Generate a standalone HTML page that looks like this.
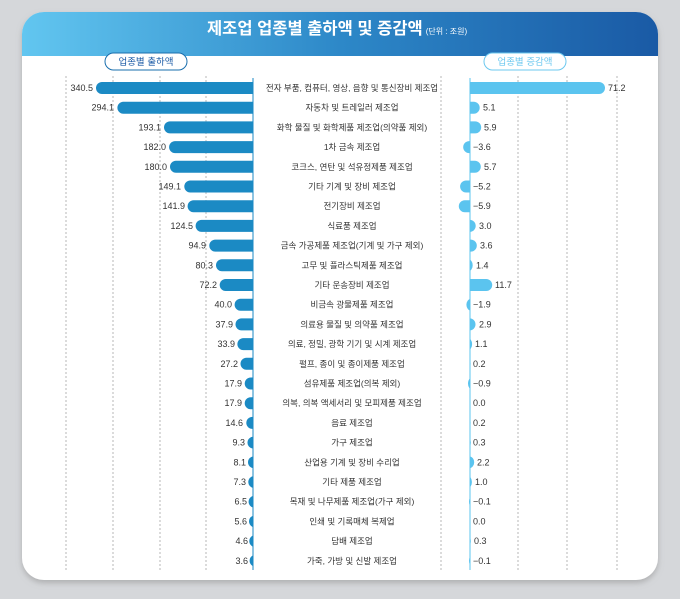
<!DOCTYPE html><html><head><meta charset="utf-8"><style>
body{margin:0;background:#d5d7da;width:680px;height:594px;overflow:hidden}
text{font-family:"Liberation Sans","Noto Sans CJK KR",sans-serif}
</style></head><body>
<svg width="680" height="594" viewBox="0 0 680 594">
<defs>
<linearGradient id="hg" x1="0" x2="1"><stop offset="0" stop-color="#62c6f0"/><stop offset="0.5" stop-color="#2d88c8"/><stop offset="1" stop-color="#1a5aa5"/></linearGradient>
<clipPath id="cl"><rect x="0" y="0" width="253" height="594"/></clipPath>
<clipPath id="cp"><rect x="470" y="0" width="210" height="594"/></clipPath>
<clipPath id="cn"><rect x="400" y="0" width="70" height="594"/></clipPath>
<clipPath id="card"><rect x="22" y="12" width="636" height="568" rx="22"/></clipPath>
<filter id="sh" x="-5%" y="-5%" width="110%" height="115%"><feDropShadow dx="0" dy="3" stdDeviation="3" flood-color="#888" flood-opacity="0.5"/></filter>
</defs>
<rect x="22" y="12" width="636" height="568" rx="22" fill="#fff" filter="url(#sh)"/>
<rect x="22" y="12" width="636" height="44" fill="url(#hg)" clip-path="url(#card)"/>
<text x="207" y="34" font-size="16.5" font-weight="bold" fill="#fff">제조업 업종별 출하액 및 증감액<tspan font-size="8" font-weight="normal" dx="3">(단위 : 조원)</tspan></text>
<rect x="105" y="53" width="82" height="17" rx="8.5" fill="#fff" stroke="#1a6fae" stroke-width="1"/>
<text x="146" y="65" text-anchor="middle" font-size="9.5" fill="#1a5aa5">업종별 출하액</text>
<rect x="484" y="53" width="82" height="17" rx="8.5" fill="#fff" stroke="#6cc8ef" stroke-width="1"/>
<text x="525" y="65" text-anchor="middle" font-size="9.5" fill="#6cc8ef">업종별 증감액</text>
<g stroke="#999" stroke-width="0.7" stroke-dasharray="2,2">
<line x1="66" y1="76" x2="66" y2="572"/><line x1="113" y1="76" x2="113" y2="572"/><line x1="160" y1="76" x2="160" y2="572"/><line x1="206" y1="76" x2="206" y2="572"/>
<line x1="441" y1="76" x2="441" y2="572"/><line x1="518" y1="76" x2="518" y2="572"/><line x1="567" y1="76" x2="567" y2="572"/><line x1="617" y1="76" x2="617" y2="572"/>
</g>
<line x1="253" y1="78" x2="253" y2="570" stroke="#1b8ac4" stroke-width="1"/>
<line x1="470" y1="78" x2="470" y2="570" stroke="#5bc4ef" stroke-width="1"/>
<g fill="#1b8ac4" clip-path="url(#cl)">
<rect x="96" y="82" width="169" height="12" rx="6"/>
<rect x="117.4" y="101.7" width="147.6" height="12" rx="6"/>
<rect x="164" y="121.4" width="101" height="12" rx="6"/>
<rect x="169.1" y="141.1" width="95.9" height="12" rx="6"/>
<rect x="170" y="160.8" width="95" height="12" rx="6"/>
<rect x="184.3" y="180.5" width="80.7" height="12" rx="6"/>
<rect x="187.6" y="200.2" width="77.4" height="12" rx="6"/>
<rect x="195.6" y="219.9" width="69.4" height="12" rx="6"/>
<rect x="209.3" y="239.6" width="55.7" height="12" rx="6"/>
<rect x="216" y="259.3" width="49" height="12" rx="6"/>
<rect x="219.7" y="279" width="45.3" height="12" rx="6"/>
<rect x="234.6" y="298.7" width="30.4" height="12" rx="6"/>
<rect x="235.5" y="318.4" width="29.5" height="12" rx="6"/>
<rect x="237.4" y="338.1" width="27.6" height="12" rx="6"/>
<rect x="240.5" y="357.8" width="24.5" height="12" rx="6"/>
<rect x="244.7" y="377.5" width="20.3" height="12" rx="6"/>
<rect x="244.7" y="397.2" width="20.3" height="12" rx="6"/>
<rect x="246.3" y="416.9" width="18.7" height="12" rx="6"/>
<rect x="247.5" y="436.6" width="16.3" height="12" rx="6"/>
<rect x="248" y="456.3" width="15.7" height="12" rx="6"/>
<rect x="248.3" y="476" width="15.4" height="12" rx="6"/>
<rect x="248.6" y="495.7" width="15" height="12" rx="6"/>
<rect x="249" y="515.4" width="14.6" height="12" rx="6"/>
<rect x="249.3" y="535.1" width="14.1" height="12" rx="6"/>
<rect x="249.6" y="554.8" width="13.7" height="12" rx="6"/>
</g>
<g font-size="9" fill="#333" text-anchor="end">
<text x="93" y="91">340.5</text><text x="114" y="110.7">294.1</text><text x="161" y="130.4">193.1</text><text x="166" y="150.1">182.0</text><text x="167" y="169.8">180.0</text><text x="181" y="189.5">149.1</text><text x="185" y="209.2">141.9</text><text x="193" y="228.9">124.5</text><text x="206" y="248.6">94.9</text><text x="213" y="268.3">80.3</text><text x="217" y="288">72.2</text><text x="232" y="307.7">40.0</text><text x="233" y="327.4">37.9</text><text x="235" y="347.1">33.9</text><text x="238" y="366.8">27.2</text><text x="242" y="386.5">17.9</text><text x="242" y="406.2">17.9</text><text x="243" y="425.9">14.6</text><text x="245" y="445.6">9.3</text><text x="246" y="465.3">8.1</text><text x="246" y="485">7.3</text><text x="247" y="504.7">6.5</text><text x="247" y="524.4">5.6</text><text x="248" y="544.1">4.6</text><text x="248" y="563.8">3.6</text>
</g>
<g font-size="8.5" fill="#333" text-anchor="middle">
<text x="352" y="91">전자 부품, 컴퓨터, 영상, 음향 및 통신장비 제조업</text>
<text x="352" y="110.7">자동차 및 트레일러 제조업</text>
<text x="352" y="130.4">화학 물질 및 화학제품 제조업(의약품 제외)</text>
<text x="352" y="150.1">1차 금속 제조업</text>
<text x="352" y="169.8">코크스, 연탄 및 석유정제품 제조업</text>
<text x="352" y="189.5">기타 기계 및 장비 제조업</text>
<text x="352" y="209.2">전기장비 제조업</text>
<text x="352" y="228.9">식료품 제조업</text>
<text x="352" y="248.6">금속 가공제품 제조업(기계 및 가구 제외)</text>
<text x="352" y="268.3">고무 및 플라스틱제품 제조업</text>
<text x="352" y="288">기타 운송장비 제조업</text>
<text x="352" y="307.7">비금속 광물제품 제조업</text>
<text x="352" y="327.4">의료용 물질 및 의약품 제조업</text>
<text x="352" y="347.1">의료, 정밀, 광학 기기 및 시계 제조업</text>
<text x="352" y="366.8">펄프, 종이 및 종이제품 제조업</text>
<text x="352" y="386.5">섬유제품 제조업(의복 제외)</text>
<text x="352" y="406.2">의복, 의복 액세서리 및 모피제품 제조업</text>
<text x="352" y="425.9">음료 제조업</text>
<text x="352" y="445.6">가구 제조업</text>
<text x="352" y="465.3">산업용 기계 및 장비 수리업</text>
<text x="352" y="485">기타 제품 제조업</text>
<text x="352" y="504.7">목재 및 나무제품 제조업(가구 제외)</text>
<text x="352" y="524.4">인쇄 및 기록매체 복제업</text>
<text x="352" y="544.1">담배 제조업</text>
<text x="352" y="563.8">가죽, 가방 및 신발 제조업</text>
</g>
<g fill="#5bc4ef" clip-path="url(#cp)">
<rect x="464" y="82" width="141" height="12" rx="6"/>
<rect x="464" y="101.7" width="15.7" height="12" rx="6"/>
<rect x="464" y="121.4" width="17.2" height="12" rx="6"/>
<rect x="464" y="160.8" width="16.8" height="12" rx="6"/>
<rect x="464" y="219.9" width="11.7" height="12" rx="6"/>
<rect x="464" y="239.6" width="12.8" height="12" rx="6"/>
<rect x="464" y="259.3" width="8.7" height="12" rx="6"/>
<rect x="464" y="279" width="28.2" height="12" rx="6"/>
<rect x="464" y="318.4" width="11.5" height="12" rx="6"/>
<rect x="464" y="338.1" width="8.1" height="12" rx="6"/>
<rect x="464" y="357.8" width="6.6" height="12" rx="6"/>
<rect x="464" y="416.9" width="6.6" height="12" rx="6"/>
<rect x="464" y="436.6" width="6.8" height="12" rx="6"/>
<rect x="464" y="456.3" width="10.2" height="12" rx="6"/>
<rect x="464" y="476" width="7.9" height="12" rx="6"/>
<rect x="464" y="535.1" width="6.8" height="12" rx="6"/>
</g>
<g fill="#5bc4ef" clip-path="url(#cn)">
<rect x="463.2" y="141.1" width="12.8" height="12" rx="6"/>
<rect x="460.1" y="180.5" width="15.9" height="12" rx="6"/>
<rect x="458.8" y="200.2" width="17.2" height="12" rx="6"/>
<rect x="466.4" y="298.7" width="9.6" height="12" rx="6"/>
<rect x="468" y="377.5" width="8" height="12" rx="6"/>
<rect x="469" y="495.7" width="7" height="12" rx="6"/>
<rect x="469" y="554.8" width="7" height="12" rx="6"/>
</g>
<g font-size="9" fill="#333">
<text x="608" y="91">71.2</text><text x="483" y="110.7">5.1</text><text x="484" y="130.4">5.9</text><text x="473" y="150.1">−3.6</text><text x="484" y="169.8">5.7</text><text x="473" y="189.5">−5.2</text><text x="473" y="209.2">−5.9</text><text x="479" y="228.9">3.0</text><text x="480" y="248.6">3.6</text><text x="476" y="268.3">1.4</text><text x="495" y="288">11.7</text><text x="473" y="307.7">−1.9</text><text x="479" y="327.4">2.9</text><text x="475" y="347.1">1.1</text><text x="473" y="366.8">0.2</text><text x="473" y="386.5">−0.9</text><text x="473" y="406.2">0.0</text><text x="473" y="425.9">0.2</text><text x="473" y="445.6">0.3</text><text x="477" y="465.3">2.2</text><text x="475" y="485">1.0</text><text x="473" y="504.7">−0.1</text><text x="473" y="524.4">0.0</text><text x="474" y="544.1">0.3</text><text x="473" y="563.8">−0.1</text>
</g>
</svg>
</body></html>
